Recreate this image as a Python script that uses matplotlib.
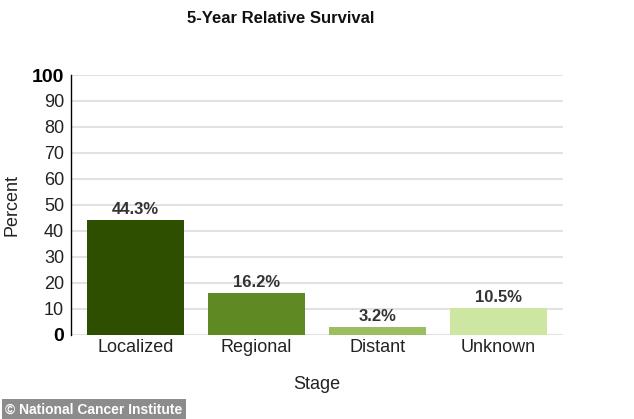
import matplotlib
matplotlib.use('Agg')
import matplotlib.pyplot as plt

# Survival by stage
stages = ['Localized', 'Regional', 'Distant', 'Unknown']
survival = [44.3, 16.2, 3.2, 10.5]
bar_colors = ['#2f4f00', '#5f8a23', '#9bbf60', '#cde6a2']
yticks = [0, 10, 20, 30, 40, 50, 60, 70, 80, 90, 100]

plt.rcParams['font.family'] = ['Liberation Sans', 'DejaVu Sans']

fig = plt.figure(figsize=(6.34, 4.19), dpi=100)
ax = fig.add_axes([0.112, 0.2005, 0.776, 0.6205])

x = range(len(stages))
bars = ax.bar(x, survival, width=0.8, color=bar_colors, zorder=3)

# value labels above bars
for b, v in zip(bars, survival):
    ax.text(b.get_x() + b.get_width() / 2, v + 1.2, f'{v}%',
            ha='center', va='bottom', fontsize=12, fontweight='bold',
            color='#333333', zorder=4)

ax.set_ylim(0, 100)
ax.set_xlim(-0.536, 3.536)
ax.set_yticks(yticks)
ax.set_yticklabels([str(t) for t in yticks], fontsize=13, color='#222222')
for lab in ax.get_yticklabels():
    if lab.get_text() in ('0', '100'):
        lab.set_fontweight('bold')
        lab.set_fontsize(14)
        lab.set_color('black')
ax.set_xticks(list(x))
ax.set_xticklabels(stages, fontsize=13, color='#222222')
ax.tick_params(axis='both', length=0, pad=3)
ax.tick_params(axis='y', pad=5)

ax.grid(True, axis='y', color='#e2e2e2', linewidth=1.5, zorder=0)
for s in ['top', 'right', 'bottom']:
    ax.spines[s].set_visible(False)
ax.spines['left'].set_color('black')
ax.spines['left'].set_linewidth(1)

ax.set_xlabel('Stage', fontsize=13, color='#222222', labelpad=14)
fig.text(0.019, 0.51, 'Percent', rotation=90, ha='center', va='center',
         fontsize=13, color='#222222')

fig.text(0.442, 0.955, '5-Year Relative Survival', ha='center', va='center',
         fontsize=12, fontweight='bold',
         family=['Liberation Sans Narrow', 'Liberation Sans'], color='#111111')

fig.text(0.008, 0.022, '\u00a9 National Cancer Institute', ha='left', va='center',
         fontsize=10, fontweight='bold', color='white',
         family=['Liberation Sans Narrow', 'Liberation Sans'],
         bbox=dict(boxstyle='square,pad=0.25', facecolor='#8c8c8c', edgecolor='none'))

fig.savefig('out.png', dpi=100)
